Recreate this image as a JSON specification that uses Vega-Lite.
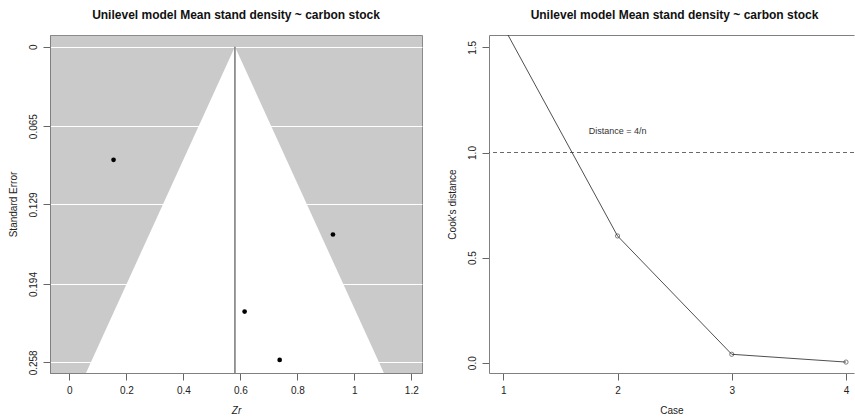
{
  "$schema": "https://vega.github.io/schema/vega-lite/v6.json",
  "background": "white",
  "padding": {"left": 7, "top": 8, "right": 0, "bottom": 0},
  "bounds": "flush",
  "spacing": 67,
  "config": {
    "font": "Liberation Sans",
    "axis": {
      "labelFont": "Liberation Sans",
      "titleFont": "Liberation Sans",
      "labelFontSize": 10,
      "titleFontSize": 10,
      "labelColor": "#222222",
      "titleColor": "#222222",
      "titleFontWeight": "normal",
      "domainColor": "#808080",
      "tickColor": "#666666",
      "tickSize": 7,
      "labelPadding": 5,
      "grid": false
    },
    "title": {"font": "Liberation Sans", "fontSize": 12, "fontWeight": "bold", "color": "#111111", "offset": 13, "anchor": "middle"}
  },
  "hconcat": [
    {
      "width": 372,
      "height": 338,
      "title": "Unilevel model Mean stand density ~ carbon stock",
      "view": {"fill": "#cacaca", "stroke": "#8a8a8a"},
      "layer": [
        {
          "data": {"values": [{"se": 0, "lo": 0.581, "hi": 0.581}, {"se": 0.2667, "lo": 0.0583, "hi": 1.1037}]},
          "mark": {"type": "area", "orient": "horizontal", "color": "white", "opacity": 1},
          "encoding": {
            "y": {
              "field": "se", "type": "quantitative", "title": "Standard Error",
              "scale": {"domain": [-0.0095, 0.2667], "reverse": true, "nice": false, "zero": false},
              "axis": {
                "values": [0, 0.065, 0.129, 0.194, 0.258], "format": ".3~f",
                "labelAngle": 270, "labelAlign": "center", "labelBaseline": "bottom",
                "grid": true, "gridColor": "white", "gridWidth": 1, "gridOpacity": 1,
                "titlePadding": 10
              }
            },
            "x": {
              "field": "lo", "type": "quantitative", "title": "Zr",
              "scale": {"domain": [-0.068, 1.2375], "nice": false, "zero": false},
              "axis": {
                "values": [0, 0.2, 0.4, 0.6, 0.8, 1, 1.2], "format": "~g",
                "labelPadding": 5, "titlePadding": 10, "titleFontStyle": "italic"
              }
            },
            "x2": {"field": "hi"}
          }
        },
        {
          "data": {"values": [{"est": 0.581, "y0": 0, "y1": 0.2667}]},
          "mark": {"type": "rule", "color": "#777777", "strokeWidth": 1.5},
          "encoding": {
            "x": {"field": "est", "type": "quantitative", "title": "Zr"},
            "y": {"field": "y0", "type": "quantitative", "title": "Standard Error"},
            "y2": {"field": "y1"}
          }
        },
        {
          "data": {"values": [
            {"zr": 0.155, "se": 0.0925},
            {"zr": 0.925, "se": 0.1535},
            {"zr": 0.615, "se": 0.2165},
            {"zr": 0.738, "se": 0.256}
          ]},
          "mark": {"type": "circle", "size": 22, "color": "black", "opacity": 1},
          "encoding": {
            "x": {"field": "zr", "type": "quantitative", "title": "Zr"},
            "y": {"field": "se", "type": "quantitative", "title": "Standard Error"}
          }
        }
      ]
    },
    {
      "width": 365,
      "height": 338,
      "title": {"text": "Unilevel model Mean stand density ~ carbon stock", "dx": 3},
      "view": {"stroke": null},
      "resolve": {"axis": {"x": "independent"}},
      "layer": [
        {
          "data": {"values": [{"cutoff": 1}]},
          "mark": {"type": "rule", "strokeDash": [4, 3], "color": "#444444", "strokeWidth": 0.8},
          "encoding": {
            "y": {
              "field": "cutoff", "type": "quantitative", "title": "Cook's distance",
              "scale": {"domain": [-0.049, 1.559], "nice": false, "zero": false},
              "axis": {
                "values": [0, 0.5, 1, 1.5], "format": ".1f",
                "labelAngle": 270, "labelAlign": "center", "labelBaseline": "bottom",
                "titlePadding": 10
              }
            }
          }
        },
        {
          "data": {"values": [
            {"case": 1, "cook": 1.6},
            {"case": 2, "cook": 0.603},
            {"case": 3, "cook": 0.04},
            {"case": 4, "cook": 0.003}
          ]},
          "mark": {"type": "line", "color": "#222222", "strokeWidth": 0.8, "clip": true},
          "encoding": {
            "x": {
              "field": "case", "type": "quantitative", "title": "Case",
              "scale": {"domain": [0.875, 4.07], "nice": false, "zero": false},
              "axis": {"values": [1, 2, 3, 4], "format": "d", "labelPadding": 5, "titlePadding": 10}
            },
            "y": {"field": "cook", "type": "quantitative", "title": "Cook's distance"}
          }
        },
        {
          "data": {"values": [
            {"case": 1, "cook": 1.6},
            {"case": 2, "cook": 0.603},
            {"case": 3, "cook": 0.04},
            {"case": 4, "cook": 0.003}
          ]},
          "mark": {"type": "point", "shape": "circle", "filled": false, "size": 18, "color": "#222222", "strokeWidth": 0.8, "clip": true},
          "encoding": {
            "x": {"field": "case", "type": "quantitative", "axis": null},
            "y": {"field": "cook", "type": "quantitative", "title": "Cook's distance"}
          }
        },
        {
          "data": {"values": [{"case": 2, "cook": 1.1, "label": "Distance = 4/n"}]},
          "mark": {"type": "text", "fontSize": 9, "color": "#333333"},
          "encoding": {
            "x": {"field": "case", "type": "quantitative", "axis": {"orient": "top", "labels": false, "ticks": false, "title": null, "domain": true}},
            "y": {"field": "cook", "type": "quantitative", "title": "Cook's distance"},
            "text": {"field": "label"}
          }
        }
      ]
    }
  ]
}
